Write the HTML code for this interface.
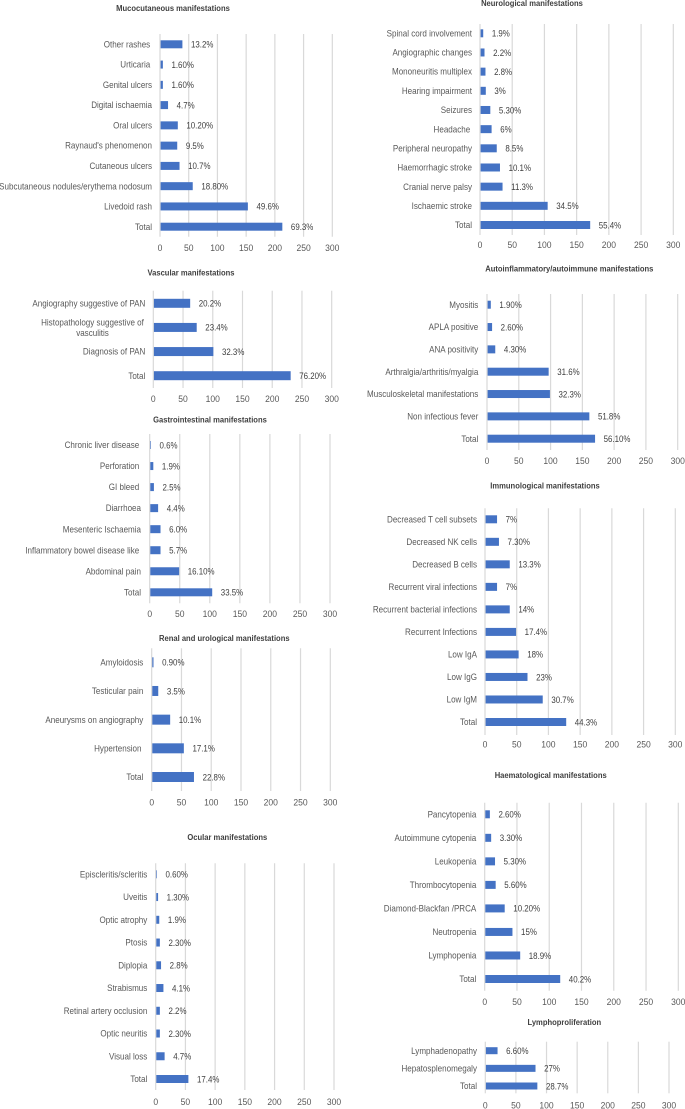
<!DOCTYPE html>
<html lang="en">
<head>
<meta charset="utf-8">
<title>Manifestations charts</title>
<style>
html,body{margin:0;padding:0;background:#fff;}
#figure{display:block;width:685px;height:1109px;filter:blur(0.3px);}
text{font-family:"Liberation Sans",sans-serif;}
.cat{font-size:9.2px;fill:#595959;text-anchor:end;}
.val{font-size:9.2px;fill:#404040;}
.tick{font-size:9.2px;fill:#595959;text-anchor:middle;}
.title{font-size:8.6px;font-weight:bold;fill:#404040;text-anchor:middle;}
</style>
</head>
<body>
<svg id="figure" xmlns="http://www.w3.org/2000/svg" width="685" height="1109" viewBox="0 0 685 1109"></svg>
<script>
const axisTicks = [0, 50, 100, 150, 200, 250, 300];

const mucoCategories = ["Other rashes ", "Urticaria ", "Genital ulcers", "Digital ischaemia", "Oral ulcers", "Raynaud's phenomenon", "Cutaneous ulcers", "Subcutaneous nodules/erythema nodosum", "Livedoid rash", "Total"];
const mucoValues = [39, 5, 5, 14, 31, 30, 34, 57, 153, 213];
const mucoLabels = ["13.2%", "1.60%", "1.60%", "4.7%", "10.20%", "9.5%", "10.7%", "18.80%", "49.6%", "69.3%"];

const neuroCategories = ["Spinal cord involvement", "Angiographic changes", "Mononeuritis multiplex", "Hearing impairment", "Seizures", "Headache ", "Peripheral neuropathy", "Haemorrhagic stroke", "Cranial nerve palsy", "Ischaemic stroke", "Total"];
const neuroValues = [5, 7, 8.5, 9, 16, 18, 26, 31, 35, 105, 171];
const neuroLabels = ["1.9%", "2.2%", "2.8%", "3%", "5.30%", "6%", "8.5%", "10.1%", "11.3%", "34.5%", "55.4%"];

const vascCategories = ["Angiography suggestive of PAN", "Histopathology suggestive of\nvasculitis", "Diagnosis of PAN", "Total"];
const vascValues = [62, 73, 101, 231];
const vascLabels = ["20.2%", "23.4%", "32.3%", "76.20%"];

const autoCategories = ["Myositis", "APLA positive", "ANA positivity", "Arthralgia/arthritis/myalgia", "Musculoskeletal manifestations", "Non infectious fever", "Total"];
const autoValues = [6, 8, 13, 97, 99, 161, 170];
const autoLabels = ["1.90%", "2.60%", "4.30%", "31.6%", "32.3%", "51.8%", "56.10%"];

const giCategories = ["Chronic liver disease ", "Perforation ", "GI bleed ", "Diarrhoea", "Mesenteric Ischaemia", "Inflammatory bowel disease like ", "Abdominal pain", "Total"];
const giValues = [2, 6, 7, 14, 18, 18, 49, 104];
const giLabels = ["0.6%", "1.9%", "2.5%", "4.4%", "6.0%", "5.7%", "16.10%", "33.5%"];

const immunoCategories = ["Decreased T cell subsets", "Decreased NK cells", "Decreased B cells", "Recurrent viral infections", "Recurrent bacterial infections", "Recurrent Infections", "Low IgA", "Low IgG", "Low IgM", "Total"];
const immunoValues = [19, 22, 39, 19, 39, 49, 53, 67, 91, 128];
const immunoLabels = ["7%", "7.30%", "13.3%", "7%", "14%", "17.4%", "18%", "23%", "30.7%", "44.3%"];

const renalCategories = ["Amyloidosis", "Testicular pain", "Aneurysms on angiography", "Hypertension ", "Total"];
const renalValues = [3, 11, 31, 54, 71];
const renalLabels = ["0.90%", "3.5%", "10.1%", "17.1%", "22.8%"];

const ocularCategories = ["Episcleritis/scleritis", "Uveitis", "Optic atrophy", "Ptosis", "Diplopia", "Strabismus", "Retinal artery occlusion", "Optic neuritis", "Visual loss", "Total"];
const ocularValues = [2, 4, 6, 7, 9, 13, 7, 7, 15, 55];
const ocularLabels = ["0.60%", "1.30%", "1.9%", "2.30%", "2.8%", "4.1%", "2.2%", "2.30%", "4.7%", "17.4%"];

const haemCategories = ["Pancytopenia", "Autoimmune cytopenia", "Leukopenia", "Thrombocytopenia", "Diamond-Blackfan /PRCA", "Neutropenia", "Lymphopenia", "Total"];
const haemValues = [8, 10, 16, 17, 31, 43, 55, 117];
const haemLabels = ["2.60%", "3.30%", "5.30%", "5.60%", "10.20%", "15%", "18.9%", "40.2%"];

const lymphoCategories = ["Lymphadenopathy", "Hepatosplenomegaly", "Total"];
const lymphoValues = [20, 82, 85];
const lymphoLabels = ["6.60%", "27%", "28.7%"];

const NS = "http://www.w3.org/2000/svg";
const figure = document.getElementById("figure");

function slug(s) {
  return s.trim().toLowerCase().replace(/[^a-z0-9]+/g, "-").replace(/^-|-$/g, "");
}

function make(parent, tag, attrs, content) {
  const el = document.createElementNS(NS, tag);
  for (const k in attrs) el.setAttribute(k, attrs[k]);
  if (content !== undefined) el.textContent = content;
  parent.appendChild(el);
  return el;
}

function squeeze(el, factor) {
  el.setAttribute("lengthAdjust", "spacingAndGlyphs");
  el.setAttribute("textLength", (el.getComputedTextLength() * factor).toFixed(2));
}

function drawChart(title, categories, values, labels, f) {
  const xScale = v => f.x0 + v * (f.x300 - f.x0) / 300;
  const step = (f.rowLast - f.rowFirst) / (categories.length - 1);
  const yScale = i => f.rowFirst + i * step;
  const barH = f.barH || 8;

  const g = make(figure, "g", {});
  
  

  const heading = make(g, "text", {class: "title", x: f.titleX, y: f.titleY + 3}, title);
  
  
  squeeze(heading, 0.885);

  axisTicks.forEach(t => {
    const grid = make(g, "line", {x1: xScale(t), x2: xScale(t), y1: f.top, y2: f.bottom, stroke: "#d9d9d9", "stroke-width": 1.2});
    
    
    const tick = make(g, "text", {class: "tick", x: xScale(t), y: f.tickY + 3.2}, String(t));
    
    
    squeeze(tick, 0.93);
  });

  categories.forEach((cat, i) => {
    const y = yScale(i);
    const lines = cat.split("\n");
    if (lines.length > 1) {
      lines.forEach((ln, j) => {
        const part = make(g, "text", {class: "cat", x: f.labelCenter, y: y + 3.1 + (j - 0.5) * 10.5}, ln);
        
        
        part.style.textAnchor = "middle";
        squeeze(part, 0.875);
      });
    } else {
      const shift = cat !== cat.trim() ? 1.8 : 0;
      const lab = make(g, "text", {class: "cat", x: f.labelX - shift, y: y + 3.1}, cat.trim());
      
      
      squeeze(lab, 0.875);
    }
    const bar = make(g, "rect", {x: xScale(0) + 0.6, y: y - barH / 2, width: Math.max(xScale(values[i]) - xScale(0) - 0.6, 0.6), height: barH, fill: "#4472c4"});
    
    
    const val = make(g, "text", {class: "val", x: xScale(values[i]) + 8.6, y: y + 3.3}, labels[i]);
    
    
    squeeze(val, 0.86);
  });
}

drawChart("Mucocutaneous manifestations", mucoCategories, mucoValues, mucoLabels,
  {x0: 160, x300: 332.3, top: 34, bottom: 236.7, tickY: 248, rowFirst: 44.3, rowLast: 226.7, titleX: 173, titleY: 8, labelX: 152});
drawChart("Neurological manifestations", neuroCategories, neuroValues, neuroLabels,
  {x0: 480, x300: 673.3, top: 24, bottom: 235, tickY: 245, rowFirst: 33.3, rowLast: 225, titleX: 532, titleY: 3, labelX: 472});
drawChart("Vascular manifestations", vascCategories, vascValues, vascLabels,
  {x0: 153.3, x300: 331.7, top: 290.7, bottom: 388, tickY: 399, rowFirst: 303.3, rowLast: 375.7, titleX: 191, titleY: 272.7, labelX: 145.3, labelCenter: 92.5, barH: 9});
drawChart("Autoinflammatory/autoimmune manifestations", autoCategories, autoValues, autoLabels,
  {x0: 487, x300: 677.7, top: 294, bottom: 450, tickY: 461, rowFirst: 304.7, rowLast: 438.7, titleX: 569.3, titleY: 268.3, labelX: 478.3});
drawChart("Gastrointestinal manifestations", giCategories, giValues, giLabels,
  {x0: 149.7, x300: 330, top: 434, bottom: 603.3, tickY: 614, rowFirst: 445, rowLast: 592.3, titleX: 210, titleY: 419.3, labelX: 141});
drawChart("Immunological manifestations", immunoCategories, immunoValues, immunoLabels,
  {x0: 485, x300: 675.3, top: 508.3, bottom: 735, tickY: 744.3, rowFirst: 519.3, rowLast: 722, titleX: 545, titleY: 485.7, labelX: 477});
drawChart("Renal and urological manifestations", renalCategories, renalValues, renalLabels,
  {x0: 151.7, x300: 330.3, top: 648.3, bottom: 791, tickY: 802.3, rowFirst: 662.3, rowLast: 777, titleX: 224.3, titleY: 638, labelX: 143.3, barH: 10});
drawChart("Ocular manifestations", ocularCategories, ocularValues, ocularLabels,
  {x0: 155.7, x300: 334, top: 863.3, bottom: 1090, tickY: 1101.7, rowFirst: 874.3, rowLast: 1079, titleX: 227.3, titleY: 837, labelX: 147.3});
drawChart("Haematological manifestations", haemCategories, haemValues, haemLabels,
  {x0: 484.7, x300: 678.3, top: 802.7, bottom: 990.7, tickY: 1001.7, rowFirst: 814.3, rowLast: 979, titleX: 550.7, titleY: 775, labelX: 476.3});
drawChart("Lymphoproliferation", lymphoCategories, lymphoValues, lymphoLabels,
  {x0: 485.3, x300: 669, top: 1041.7, bottom: 1093.3, tickY: 1105.5, rowFirst: 1050.7, rowLast: 1086, titleX: 564.3, titleY: 1022, labelX: 477, barH: 7});
</script>
</body>
</html>
